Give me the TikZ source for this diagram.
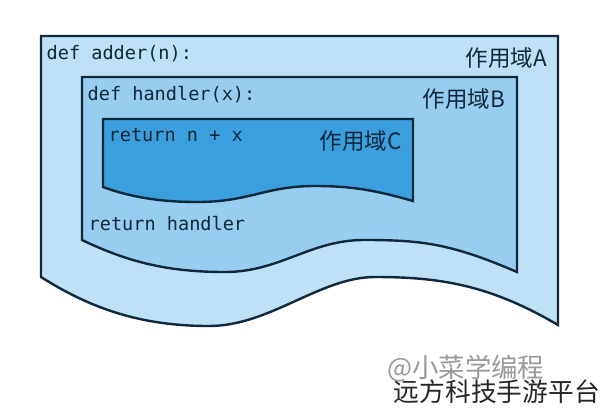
\documentclass[tikz,border=0pt]{standalone}
\usepackage{fontspec}
\setmonofont{DejaVu Sans Mono}
\newfontfamily\cjk{Noto Sans CJK SC}
\usetikzlibrary{positioning}
\definecolor{scopeA}{HTML}{BFE1F5}
\definecolor{scopeB}{HTML}{97CEF0}
\definecolor{scopeC}{HTML}{3A9FDC}
\definecolor{scopeline}{HTML}{10283C}
\begin{document}
\begin{tikzpicture}[x=0.025cm,y=-0.025cm,line width=0.06cm,line join=miter]

		\tikzset{code txt/.style={inner sep=0pt,anchor=base west,text=scopeline,
								font=\ttfamily\fontsize{13.2}{15}\selectfont},
				scope txt/.style={inner sep=0pt,anchor=base east,text=scopeline,
								font=\cjk\fontsize{16}{19}\selectfont},
				scope box/.style={draw=scopeline}}

		\useasboundingbox (0,0) rectangle (600,410);

		% scope boxes, outer to inner
		\draw[scope box,fill=scopeA] (41,36) -- (558,36) -- (558,325)
			.. controls (490,285) and (440,277) .. (375,277)
			.. controls (320,277) and (270,326) .. (209,326)
			.. controls (140,326) and (90,308) .. (41,277) -- cycle;
		\draw[scope box,fill=scopeB] (82,77) -- (517,77) -- (517,272)
			.. controls (450,243) and (420,240) .. (364,240)
			.. controls (310,240) and (280,272) .. (225,272)
			.. controls (170,272) and (130,263) .. (82,240) -- cycle;
		\draw[scope box,fill=scopeC] (103,119) -- (413,119) -- (413,201)
			.. controls (375,190) and (350,186) .. (315,186)
			.. controls (265,186) and (250,202) .. (197,202)
			.. controls (160,202) and (130,197) .. (103,187) -- cycle;

		\node[code txt] (adder) at (45.5,59) {def adder(n):};
		\node[code txt] (handler) at (86.5,100) {def handler(x):};
		\node[code txt] (sum) at (107.5,141) {return n + x};
		\node[code txt] (ret) at (87.5,230) {return handler};

		\node[scope txt] (scA) at (548,66) {作用域A};
		\node[scope txt] (scB) at (506,107) {作用域B};
		\node[scope txt] (scC) at (403,149) {作用域C};

		% watermark lines
		\node[inner sep=0pt,anchor=base west,text=black!40,font=\cjk\fontsize{18.8}{22}\selectfont]
			(mark) at (386,377) {@小菜学编程};
		\node[inner sep=0pt,anchor=base east,text=black!85,font=\cjk\fontsize{18.3}{22}\selectfont]
			(site) at (601,401) {远方科技手游平台};
\end{tikzpicture}
\end{document}
